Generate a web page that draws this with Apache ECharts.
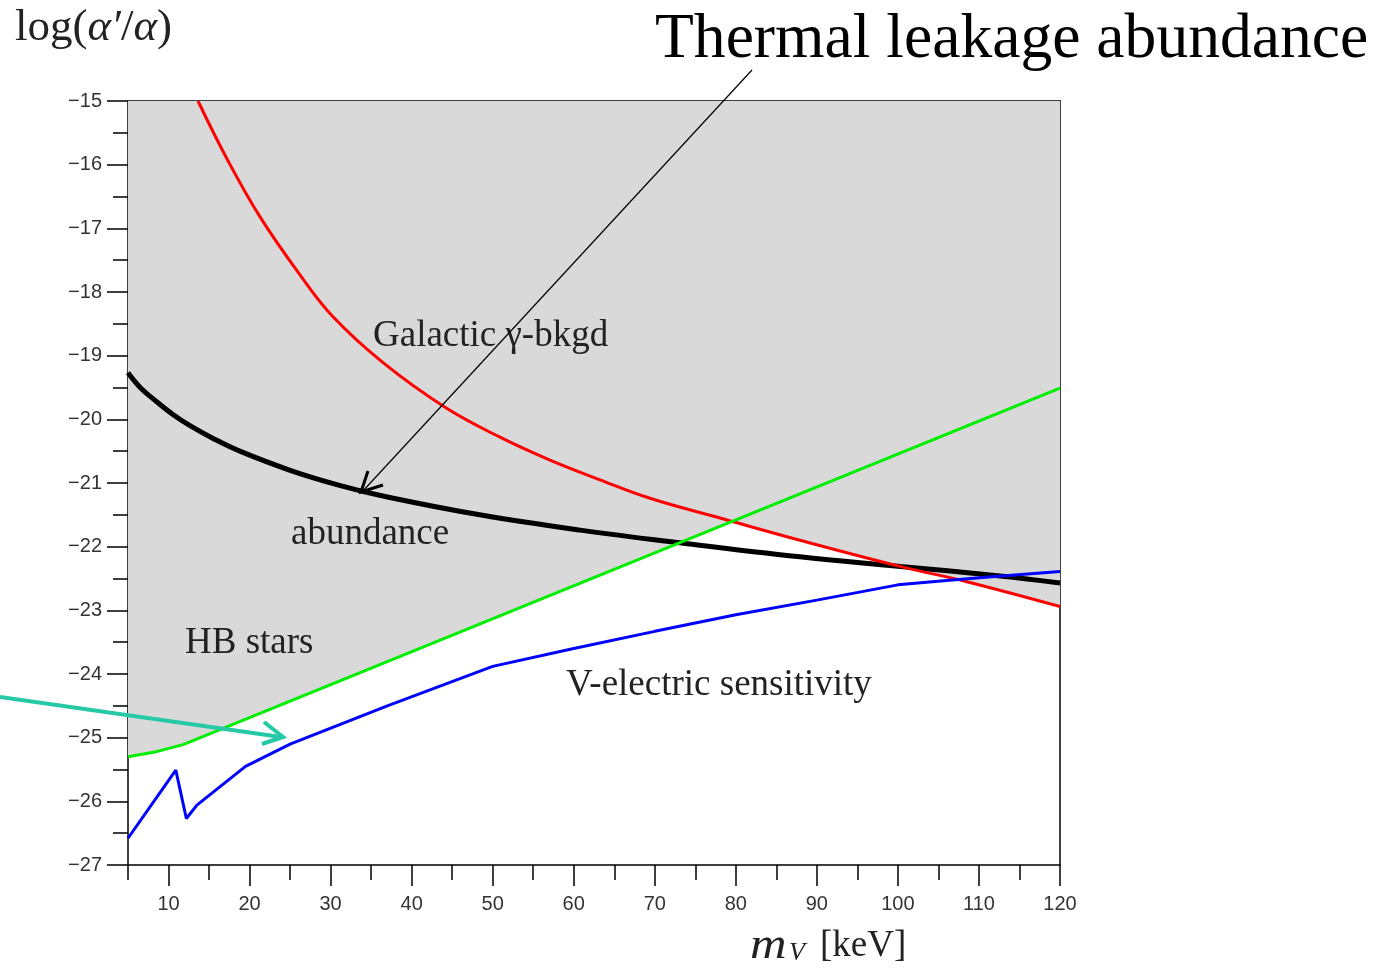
<!DOCTYPE html>
<html>
<head>
<meta charset="utf-8">
<script src="https://cdn.jsdelivr.net/npm/echarts@6/dist/echarts.min.js"></script>
<style>
html,body{margin:0;padding:0;background:#fff;}
#chart{width:1387px;height:970px;}
</style>
</head>
<body>
<div id="chart"></div>
<script>
// ---- data ----
const xMin = 5, xMax = 120;
const yMin = -27, yMax = -15;
const xMajorTicks = [10, 20, 30, 40, 50, 60, 70, 80, 90, 100, 110, 120];
const xMinorTicks = [5, 15, 25, 35, 45, 55, 65, 75, 85, 95, 105, 115];

// Galactic gamma-background bound (red)
const galacticBkgd = [[13.64,-15],[17.22,-15.91],[21.29,-16.82],[26.22,-17.73],[30.3,-18.39],[36.47,-19.11],[44.12,-19.81],[50.9,-20.28],[57.07,-20.64],[63.24,-20.95],[69.41,-21.24],[78.05,-21.55],[87.92,-21.9],[100.26,-22.31],[108.5,-22.55],[120,-22.94]];
// Thermal abundance (black)
const abundance = [[5,-19.27],[6.5,-19.5],[8.5,-19.72],[10.5,-19.92],[12.65,-20.1],[15.5,-20.3],[18.8,-20.5],[25,-20.8],[31.2,-21.04],[37,-21.22],[48.4,-21.5],[60.8,-21.74],[73.1,-21.94],[87.9,-22.16],[100.3,-22.31],[112.6,-22.46],[120,-22.57]];
// HB stars bound (green)
const hbStars = [[5,-25.3],[8.5,-25.22],[11.8,-25.11],[120,-19.51]];
// V-electric sensitivity (blue)
const vElectric = [[5,-26.58],[10.9,-25.51],[12.2,-26.27],[13.5,-26.06],[19.5,-25.45],[25,-25.1],[37,-24.5],[50,-23.88],[60,-23.6],[70,-23.33],[80,-23.07],[90,-22.84],[100,-22.6],[106,-22.53],[112,-22.47],[120,-22.39]];

const GREY = '#d9d9d9';
const chart = echarts.init(document.getElementById('chart'), null, {renderer: 'canvas'});

const axisLineStyle = {color: '#000', width: 1.5};
const option = {
  backgroundColor: '#fff',
  animation: false,
  grid: {left: 128, top: 101, right: 327, bottom: 105, containLabel: false},
  xAxis: [
    {
      type: 'value', min: xMin, max: xMax, position: 'bottom',
      axisLine: {show: true, lineStyle: axisLineStyle},
      axisTick: {show: true, customValues: xMajorTicks, length: 21, lineStyle: axisLineStyle},
      axisLabel: {show: true, customValues: xMajorTicks, fontSize: 20, color: '#333', margin: 29, fontFamily: 'Liberation Sans'},
      splitLine: {show: false}
    },
    {
      type: 'value', min: xMin, max: xMax, position: 'bottom',
      axisLine: {show: false},
      axisTick: {show: true, customValues: xMinorTicks, length: 15, lineStyle: axisLineStyle},
      axisLabel: {show: false},
      splitLine: {show: false}
    },
    {
      type: 'value', min: xMin, max: xMax, position: 'top',
      axisLine: {show: true, lineStyle: axisLineStyle},
      axisTick: {show: false}, axisLabel: {show: false}, splitLine: {show: false}
    }
  ],
  yAxis: [
    {
      type: 'value', min: yMin, max: yMax, interval: 1, position: 'left',
      axisLine: {show: true, lineStyle: axisLineStyle},
      axisTick: {show: true, length: 21, lineStyle: axisLineStyle},
      minorTick: {show: true, splitNumber: 2, length: 15, lineStyle: axisLineStyle},
      axisLabel: {fontSize: 20, color: '#333', margin: 26, fontFamily: 'Liberation Sans',
        formatter: v => String(v).replace('-', '\u2212')},
      splitLine: {show: false}, minorSplitLine: {show: false}
    },
    {
      type: 'value', min: yMin, max: yMax, position: 'right',
      axisLine: {show: true, lineStyle: axisLineStyle},
      axisTick: {show: false}, axisLabel: {show: false}, splitLine: {show: false}
    }
  ],
  series: [
    {
      name: 'galactic-fill', type: 'line', data: galacticBkgd, xAxisIndex: 0, yAxisIndex: 0,
      showSymbol: false, symbol: 'none', smooth: 0.4, z: 1,
      lineStyle: {width: 0, opacity: 0},
      areaStyle: {color: GREY, opacity: 1, origin: 'end'}
    },
    {
      name: 'hb-fill', type: 'line', data: hbStars, xAxisIndex: 0, yAxisIndex: 0,
      showSymbol: false, symbol: 'none', z: 1,
      lineStyle: {width: 0, opacity: 0},
      areaStyle: {color: GREY, opacity: 1, origin: 'end'}
    },
    {
      name: 'abundance', type: 'line', data: abundance, showSymbol: false, symbol: 'none',
      smooth: 0.4, z: 3, lineStyle: {color: '#000', width: 5}
    },
    {
      name: 'galactic', type: 'line', data: galacticBkgd, showSymbol: false, symbol: 'none',
      smooth: 0.4, z: 4, lineStyle: {color: '#ff0000', width: 3}
    },
    {
      name: 'hb', type: 'line', data: hbStars, showSymbol: false, symbol: 'none',
      z: 5, lineStyle: {color: '#00ee00', width: 3}
    },
    {
      name: 'velectric', type: 'line', data: vElectric, showSymbol: false, symbol: 'none',
      z: 6, lineStyle: {color: '#0000ff', width: 3}
    }
  ],
  graphic: [
    // region labels
    {type: 'text', x: 373, y: 336, z: 20, style: {text: 'Galactic \u03b3-bkgd', font: '37px "Liberation Serif"', fill: '#222', textVerticalAlign: 'middle'}},
    {type: 'text', x: 291, y: 534, z: 20, style: {text: 'abundance', font: '37px "Liberation Serif"', fill: '#222', textVerticalAlign: 'middle'}},
    {type: 'text', x: 185, y: 643, z: 20, style: {text: 'HB stars', font: '37px "Liberation Serif"', fill: '#222', textVerticalAlign: 'middle'}},
    {type: 'text', x: 566, y: 685, z: 20, style: {text: 'V-electric sensitivity', font: '37px "Liberation Serif"', fill: '#222', textVerticalAlign: 'middle'}},
    // annotation title
    {type: 'text', x: 655, y: 40, z: 20, style: {text: 'Thermal leakage abundance', font: '63.6px "Liberation Serif"', fill: '#000', textVerticalAlign: 'middle'}},
    // y-axis title
    {type: 'text', x: 15, y: 28, z: 20, style: {
      text: '{n|log(}{i|\u03b1\u2032}{n|/}{i|\u03b1}{n|)}',
      textVerticalAlign: 'middle',
      rich: {n: {font: '45px "Liberation Serif"', fill: '#222'}, i: {font: 'italic 45px "Liberation Serif"', fill: '#222'}}
    }},
    // x-axis title
    {type: 'text', x: 750, y: 946, scaleX: 1.15, z: 20, style: {text: 'm', font: 'italic 44px "Liberation Serif"', fill: '#222', textVerticalAlign: 'middle'}},
    {type: 'text', x: 789, y: 953, z: 20, style: {text: 'V', font: 'italic 26px "Liberation Serif"', fill: '#222', textVerticalAlign: 'middle'}},
    {type: 'text', x: 820, y: 946, z: 20, style: {text: '[keV]', font: '37px "Liberation Serif"', fill: '#222', textVerticalAlign: 'middle'}},
    // thin black arrow
    {type: 'line', z: 21, shape: {x1: 752, y1: 70, x2: 362, y2: 492}, style: {stroke: '#000', lineWidth: 1.2}},
    {type: 'polyline', z: 21, shape: {points: [[383, 485], [361, 492], [368, 471]]}, style: {stroke: '#000', lineWidth: 3, fill: null}},
    // teal arrow
    {type: 'line', z: 21, shape: {x1: 0, y1: 697, x2: 281, y2: 737}, style: {stroke: '#26c9a6', lineWidth: 4}},
    {type: 'polyline', z: 21, shape: {points: [[264, 722], [283, 737], [262, 744]]}, style: {stroke: '#26c9a6', lineWidth: 4, fill: null, lineJoin: 'miter'}}
  ]
};
chart.setOption(option);
</script>
</body>
</html>
